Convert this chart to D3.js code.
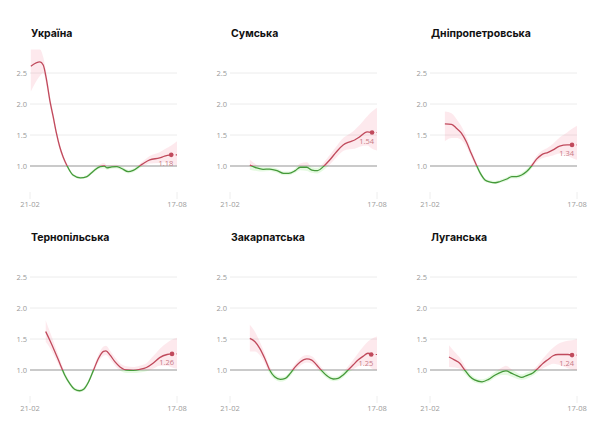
<!DOCTYPE html>
<html><head><meta charset="utf-8">
<script src="https://cdn.jsdelivr.net/npm/d3@7"></script>
<style>
body{margin:0;background:#fff;}
svg{display:block;}
</style></head>
<body><svg id="c" width="605" height="428"></svg>
<script>
const regionNames = ["Україна","Сумська","Дніпропетровська","Тернопільська","Закарпатська","Луганська"];
const xTickLabels = ["21-02","17-08"];
const yTickValues = [1.0,1.5,2.0,2.5];
const dayStart = 0, dayEnd = 178;

const ukraineDays = [1,12,16,20,24,28,32,36,40,45,52,61,69,77,85,90,93,99,105,111,119,125,136,145,157,163,171,178];
const ukraineR    = [2.61,2.68,2.63,2.39,2.06,1.80,1.53,1.31,1.15,1.00,0.855,0.81,0.83,0.92,0.99,1.00,0.97,0.985,0.99,0.96,0.91,0.93,1.03,1.10,1.13,1.16,1.18,1.18];
const ukraineLo   = [2.20,2.45,2.50,2.30,1.98,1.73,1.47,1.26,1.11,0.97,0.83,0.79,0.81,0.89,0.96,0.96,0.94,0.955,0.96,0.93,0.88,0.90,0.99,1.04,1.05,1.06,1.04,1.00];
const ukraineHi   = [2.88,2.88,2.76,2.48,2.14,1.87,1.59,1.36,1.19,1.03,0.88,0.83,0.86,0.95,1.03,1.05,1.01,1.015,1.02,0.99,0.94,0.96,1.07,1.16,1.22,1.27,1.33,1.40];

const sumyDays = [24,32,40,48,57,65,71,79,85,93,99,106,113,121,129,137,145,151,157,166,172,178];
const sumyR    = [1.016,0.97,0.946,0.95,0.925,0.88,0.88,0.925,0.98,0.98,0.935,0.925,0.99,1.10,1.23,1.34,1.39,1.42,1.47,1.55,1.54,1.54];
const sumyLo   = [0.94,0.92,0.91,0.92,0.89,0.85,0.85,0.89,0.93,0.92,0.89,0.88,0.93,1.03,1.14,1.24,1.27,1.28,1.31,1.33,1.28,1.25];
const sumyHi   = [1.10,1.02,0.98,0.98,0.96,0.91,0.91,0.96,1.04,1.06,0.98,0.97,1.05,1.18,1.32,1.45,1.52,1.58,1.66,1.80,1.88,1.94];

const dniproDays = [18,26,32,38,44,50,56,61,67,73,79,85,93,99,105,111,117,123,129,135,143,149,157,166,172,178];
const dniproR    = [1.68,1.67,1.61,1.53,1.39,1.20,1.02,0.88,0.77,0.74,0.73,0.75,0.79,0.83,0.83,0.855,0.91,1.00,1.11,1.18,1.22,1.26,1.32,1.34,1.34,1.34];
const dniproLo   = [1.40,1.45,1.45,1.42,1.31,1.14,0.97,0.84,0.74,0.72,0.71,0.73,0.76,0.80,0.80,0.82,0.87,0.96,1.06,1.12,1.15,1.17,1.20,1.17,1.13,1.10];
const dniproHi   = [1.88,1.85,1.76,1.64,1.47,1.26,1.07,0.92,0.80,0.77,0.76,0.78,0.82,0.86,0.86,0.89,0.95,1.04,1.16,1.24,1.30,1.36,1.46,1.54,1.60,1.65];

const ternopilDays = [19,24,30,36,42,48,54,60,65,71,77,83,89,92,97,103,109,117,125,133,141,149,157,166,172,178];
const ternopilR    = [1.62,1.48,1.30,1.11,0.92,0.785,0.69,0.665,0.69,0.81,1.00,1.19,1.30,1.31,1.24,1.13,1.05,1.00,0.995,1.01,1.04,1.11,1.20,1.25,1.26,1.26];
const ternopilLo   = [1.45,1.36,1.21,1.05,0.88,0.75,0.66,0.64,0.66,0.78,0.96,1.13,1.23,1.24,1.17,1.07,0.99,0.95,0.95,0.96,0.98,1.02,1.07,1.07,1.04,1.02];
const ternopilHi   = [1.80,1.62,1.40,1.18,0.97,0.82,0.72,0.69,0.72,0.85,1.05,1.25,1.38,1.39,1.31,1.20,1.11,1.06,1.05,1.07,1.11,1.22,1.34,1.44,1.49,1.52];

const zakarpattiaDays = [24,30,36,42,48,54,61,67,73,79,85,93,99,105,111,117,125,131,137,143,149,155,161,167,171,178];
const zakarpattiaR    = [1.51,1.46,1.35,1.19,1.00,0.89,0.85,0.865,0.945,1.05,1.13,1.18,1.16,1.08,0.99,0.91,0.855,0.865,0.92,1.00,1.08,1.16,1.22,1.27,1.25,1.25];
const zakarpattiaLo   = [1.30,1.30,1.24,1.11,0.94,0.85,0.81,0.83,0.90,1.00,1.07,1.12,1.10,1.03,0.94,0.87,0.82,0.83,0.88,0.95,1.01,1.06,1.08,1.08,1.03,1.00];
const zakarpattiaHi   = [1.73,1.62,1.46,1.27,1.06,0.94,0.89,0.90,0.99,1.10,1.19,1.24,1.22,1.14,1.04,0.96,0.89,0.90,0.97,1.06,1.16,1.27,1.37,1.46,1.50,1.54];

const luhanskDays = [23,30,36,42,48,54,63,71,79,87,92,99,105,111,117,125,131,137,143,149,155,161,167,172,178];
const luhanskR    = [1.21,1.16,1.11,1.00,0.90,0.84,0.81,0.85,0.92,0.97,0.985,0.945,0.91,0.88,0.91,0.957,1.03,1.11,1.17,1.23,1.25,1.25,1.25,1.24,1.24];
const luhanskLo   = [1.05,1.04,1.02,0.94,0.86,0.80,0.78,0.81,0.88,0.92,0.92,0.89,0.86,0.84,0.86,0.91,0.97,1.03,1.07,1.10,1.09,1.06,1.03,1.01,1.00];
const luhanskHi   = [1.40,1.29,1.20,1.07,0.95,0.88,0.85,0.89,0.97,1.04,1.07,1.01,0.96,0.93,0.96,1.01,1.09,1.19,1.28,1.36,1.42,1.45,1.47,1.48,1.50];

const lastLabels = ["1.18","1.54","1.34","1.26","1.25","1.24"];

const panelDays = [ukraineDays,sumyDays,dniproDays,ternopilDays,zakarpattiaDays,luhanskDays];
const panelR = [ukraineR,sumyR,dniproR,ternopilR,zakarpattiaR,luhanskR];
const panelLo = [ukraineLo,sumyLo,dniproLo,ternopilLo,zakarpattiaLo,luhanskLo];
const panelHi = [ukraineHi,sumyHi,dniproHi,ternopilHi,zakarpattiaHi,luhanskHi];

const RED = "#c04a5c", GREEN = "#45993a";
const svg = d3.select("#c");
const x = d3.scaleLinear().domain([dayStart, dayEnd]).range([30, 177]);
const y = d3.scaleLinear().domain([0.5, 2.5]).range([197, 73]);

regionNames.forEach((name, i) => {
  const col = i % 3, row = Math.floor(i / 3);
  const g = svg.append("g").attr("transform", `translate(${col*200},${row*204})`);
  const data = panelDays[i].map((d, k) => ({d, r: panelR[i][k], lo: panelLo[i][k], hi: panelHi[i][k]}));

  g.append("text").attr("x", 31).attr("y", 37)
    .attr("font-family", "Inter, 'Open Sans', sans-serif").attr("font-weight", 700)
    .attr("font-size", 10.5).attr("fill", "#111").text(name);

  // grid
  g.selectAll("line.grid").data(yTickValues).join("line")
    .attr("x1", 30).attr("x2", 177)
    .attr("y1", v => y(v)).attr("y2", v => y(v))
    .attr("stroke", v => v === 1 ? "#b9b9b9" : "#ececec")
    .attr("stroke-width", v => v === 1 ? 1.3 : 1);
  g.selectAll("text.yt").data(yTickValues).join("text")
    .attr("x", 27).attr("y", v => y(v) + 3).attr("text-anchor", "end")
    .attr("font-family", "'Open Sans', sans-serif").attr("font-size", 7.5).attr("fill", "#9a9a9a")
    .text(v => d3.format(".1f")(v));
  // x ticks
  [dayStart, dayEnd].forEach((d, k) => {
    g.append("line").attr("x1", x(d)).attr("x2", x(d)).attr("y1", 192).attr("y2", 199)
      .attr("stroke", "#eeeeee");
    g.append("text").attr("x", x(d)).attr("y", 207).attr("text-anchor", "middle")
      .attr("font-family", "'Open Sans', sans-serif").attr("font-size", 7.5).attr("fill", "#9a9a9a")
      .text(xTickLabels[k]);
  });

  const cid = "p" + i;
  const defs = g.append("defs");
  defs.append("clipPath").attr("id", cid + "a").append("rect").attr("x", 0).attr("y", 0).attr("width", 200).attr("height", y(1));
  defs.append("clipPath").attr("id", cid + "b").append("rect").attr("x", 0).attr("y", y(1)).attr("width", 200).attr("height", 200);

  const area = d3.area().x(p => x(p.d)).y0(p => y(p.lo)).y1(p => y(p.hi)).curve(d3.curveMonotoneX);
  const line = d3.line().x(p => x(p.d)).y(p => y(p.r)).curve(d3.curveMonotoneX);
  const solid = data.slice(0, data.length - 1);
  const proj = data.slice(data.length - 2);

  [["a", RED, "rgba(245,120,140,0.16)"], ["b", GREEN, "rgba(110,230,90,0.18)"]].forEach(([s, lc, fc]) => {
    const cg = g.append("g").attr("clip-path", `url(#${cid}${s})`);
    cg.append("path").datum(data).attr("d", area).attr("fill", fc);
  });
  [["a", RED], ["b", GREEN]].forEach(([s, lc]) => {
    const cg = g.append("g").attr("clip-path", `url(#${cid}${s})`);
    cg.append("path").datum(solid).attr("d", line).attr("fill", "none").attr("stroke", lc).attr("stroke-width", 1.3);
    cg.append("path").datum(proj).attr("d", d3.line().x(p => x(p.d)).y(p => y(p.r)))
      .attr("fill", "none").attr("stroke", lc).attr("stroke-width", 1.2).attr("stroke-dasharray", "2,2.5");
  });
  const last = solid[solid.length - 1];
  g.append("circle").attr("cx", x(last.d)).attr("cy", y(last.r)).attr("r", 2.3).attr("fill", last.r >= 1 ? RED : GREEN);
  g.append("text").attr("x", x(last.d) + 2).attr("y", y(last.r) + 11).attr("text-anchor", "end")
    .attr("font-family", "'Open Sans', sans-serif").attr("font-size", 7.5).attr("fill", "#c77a86")
    .text(lastLabels[i]);
});
</script>
</body></html>
